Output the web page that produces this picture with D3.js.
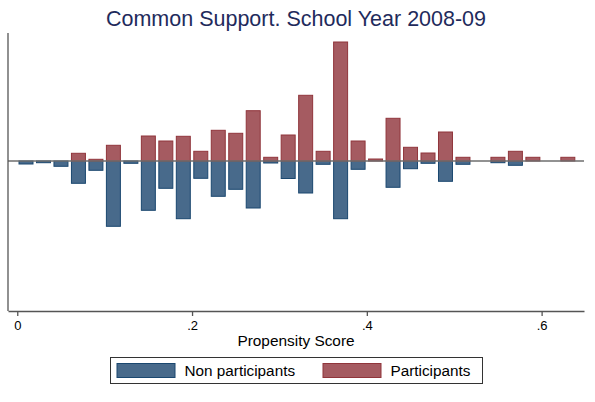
<!DOCTYPE html>
<html>
<head>
<meta charset="utf-8">
<script src="https://cdn.jsdelivr.net/npm/d3@7"></script>
<style>
  body { margin: 0; background: #fff; }
  text { font-family: "Liberation Sans", Arial, Helvetica, sans-serif; }
</style>
</head>
<body>
<svg id="plot1"></svg>
<script>
// bin midpoints of the propensity score (bins of .02)
var binMid = [0.01, 0.03, 0.05, 0.07, 0.09, 0.11, 0.13, 0.15, 0.17, 0.19, 0.21,
              0.23, 0.25, 0.27, 0.29, 0.31, 0.33, 0.35, 0.37, 0.39, 0.41, 0.43,
              0.45, 0.47, 0.49, 0.51, 0.53, 0.55, 0.57, 0.59, 0.61, 0.63];
// frequencies, participants drawn up, non participants drawn down
var participants = [0, 0, 0, 7.7, 1.7, 15.7, 0, 25, 20, 24.7, 9.7,
                    30.7, 27.7, 50.3, 3.7, 26, 65.7, 9.7, 119, 20, 2, 42.7,
                    13.7, 8, 29, 3.7, 0, 3.7, 9.7, 3.7, 0, 3.7];
var nonParticipants = [3, 1.7, 5.3, 22.3, 9.3, 65.3, 2.3, 49.3, 27.3, 57.7, 17.3,
                       35.3, 28.3, 47, 2, 17.5, 32, 3.3, 57.7, 8.3, 0, 26.3,
                       7.7, 2.3, 20.3, 3.3, 0, 1.7, 4.3, 0, 0, 0];
var xTicks = [0, 0.2, 0.4, 0.6];
var xTickLabels = ['0', '.2', '.4', '.6'];
var seriesNames = ['Non participants', 'Participants'];

var w = 595, h = 402;
var barW = 0.016;
var clrs = {
    'Non participants': {fill: '#486a8b', line: '#1a476f'},
    'Participants': {fill: '#a55b61', line: '#90353b'}
};

var svg = d3.select('#plot1').attr('width', w).attr('height', h);

var xs = d3.scaleLinear().domain([-0.0106, 0.6485]).range([8, 584]);
var ys = d3.scaleLinear().domain([-150, 128]).range([311, 33]);

// non participants (below zero)
svg.append('g').selectAll('rect')
    .data(nonParticipants)
    .enter()
    .append('rect')
    .attr('x', function(d, i) { return xs(binMid[i] - barW / 2); })
    .attr('width', function(d, i) { return xs(binMid[i] + barW / 2) - xs(binMid[i] - barW / 2); })
    .attr('y', ys(0))
    .attr('height', function(d) { return ys(-d) - ys(0); })
    .attr('fill', clrs['Non participants'].fill)
    .attr('stroke', clrs['Non participants'].line)
    .attr('stroke-width', function(d) { return d > 0 ? 1 : 0; });

// participants (above zero)
svg.append('g').selectAll('rect')
    .data(participants)
    .enter()
    .append('rect')
    .attr('x', function(d, i) { return xs(binMid[i] - barW / 2); })
    .attr('width', function(d, i) { return xs(binMid[i] + barW / 2) - xs(binMid[i] - barW / 2); })
    .attr('y', function(d) { return ys(d); })
    .attr('height', function(d) { return ys(0) - ys(d); })
    .attr('fill', clrs['Participants'].fill)
    .attr('stroke', clrs['Participants'].line)
    .attr('stroke-width', function(d) { return d > 0 ? 1 : 0; });

// zero line
svg.append('line')
    .attr('x1', 8).attr('x2', 584)
    .attr('y1', ys(0)).attr('y2', ys(0))
    .attr('stroke', '#6e6e6e').attr('stroke-width', 1.5);

// y axis (no labels)
svg.append('line')
    .attr('x1', 8).attr('x2', 8)
    .attr('y1', ys.range()[1]).attr('y2', ys.range()[0])
    .attr('stroke', '#555').attr('stroke-width', 1.3);

// x axis
var xAxis = d3.axisBottom(xs)
    .tickValues(xTicks)
    .tickFormat(function(d, i) { return xTickLabels[i]; })
    .tickSizeInner(5)
    .tickSizeOuter(0)
    .tickPadding(5);
var gx = svg.append('g')
    .attr('transform', 'translate(0,' + ys(-150) + ')')
    .call(xAxis);
gx.select('.domain').attr('stroke', '#555').attr('stroke-width', 1.3);
gx.selectAll('.tick line').attr('stroke', '#555').attr('stroke-width', 1.3);
gx.selectAll('.tick text')
    .attr('fill', '#000')
    .style('font-size', '13px')
    .style('font-family', '"Liberation Sans", Arial, sans-serif');

// axis title
svg.append('text')
    .attr('x', 296).attr('y', 346)
    .attr('text-anchor', 'middle')
    .style('font-size', '15.4px')
    .text('Propensity Score');

// chart title
svg.append('text')
    .attr('x', 296).attr('y', 26)
    .attr('text-anchor', 'middle')
    .attr('fill', '#1f2b5c')
    .style('font-size', '21.5px')
    .text('Common Support. School Year 2008-09');

// legend
var leg = svg.append('g');
leg.append('rect')
    .attr('x', 110.5).attr('y', 357.5)
    .attr('width', 372).attr('height', 26)
    .attr('fill', '#fff').attr('stroke', '#333').attr('stroke-width', 1);
var legX = [117, 323];
seriesNames.forEach(function(s, i) {
    leg.append('rect')
        .attr('x', legX[i]).attr('y', 363.5)
        .attr('width', 58).attr('height', 14)
        .attr('fill', clrs[s].fill)
        .attr('stroke', clrs[s].line).attr('stroke-width', 1);
    leg.append('text')
        .attr('x', legX[i] + 67.5).attr('y', 376)
        .style('font-size', '15.3px')
        .text(s);
});
</script>
</body>
</html>
